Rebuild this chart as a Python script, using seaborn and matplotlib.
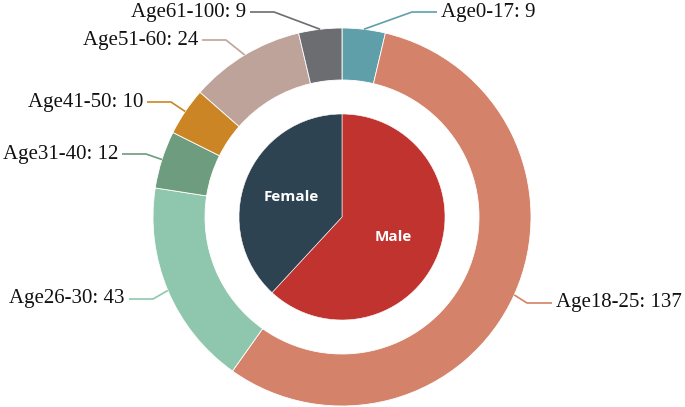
import numpy as np
import matplotlib
matplotlib.use("Agg")
import matplotlib.pyplot as plt
import seaborn as sns

# ---- data ----
age_groups = ["Age0-17", "Age18-25", "Age26-30", "Age31-40", "Age41-50", "Age51-60", "Age61-100"]
age_counts = [9, 137, 43, 12, 10, 24, 9]
age_colors = ["#5f9fa9", "#d4826a", "#8fc7ae", "#6d9c7e", "#cc8524", "#bea39a", "#6b6d71"]

gender_labels = ["Male", "Female"]
gender_counts = [151, 93]
gender_colors = ["#c1332f", "#2e4352"]

# label layout (pixel positions of text anchor, side)
label_pos = [(441, 12, "right"), (556, 303, "right"), (125, 299, "left"), (118, 154, "left"),
             (143, 102, "left"), (198, 40, "left"), (246, 12, "left")]

sns.set_theme(style="white")
W, H = 685, 407
fig = plt.figure(figsize=(W / 100, H / 100), dpi=100)
ax = fig.add_axes([0, 0, 1, 1])

cx, cy = 342, H - 217
R_out, ring_w, R_in = 189, 52, 103

wedges, _ = ax.pie(age_counts, radius=R_out, center=(cx, cy), startangle=90, counterclock=False,
                   colors=age_colors, wedgeprops=dict(width=ring_w, edgecolor="white", linewidth=0.6))
ax.pie(gender_counts, radius=R_in, center=(cx, cy), startangle=90, counterclock=False,
       colors=gender_colors, wedgeprops=dict(edgecolor="white", linewidth=0.4))

# inner labels
total_g = sum(gender_counts)
start = 90.0
for lab, v in zip(gender_labels, gender_counts):
    sweep = v / total_g * 360
    mid = np.deg2rad(start - sweep / 2)
    start -= sweep
    ax.text(cx + 0.53 * R_in * np.cos(mid), cy + 0.53 * R_in * np.sin(mid), lab,
            ha="center", va="center", color="white", fontsize=11, fontweight="bold",
            family=["Open Sans", "DejaVu Sans"])

# outer labels with leader lines
total_a = sum(age_counts)
start = 90.0
for name, v, col, (tx, ty, side) in zip(age_groups, age_counts, age_colors, label_pos):
    sweep = v / total_a * 360
    mid = np.deg2rad(start - sweep / 2)
    start -= sweep
    ex, ey = cx + R_out * np.cos(mid), cy + R_out * np.sin(mid)
    tyd = H - ty
    if side == "right":
        elbow = tx - 29
        lend = tx - 4
        ha = "left"
    else:
        elbow = tx + 28
        lend = tx + 4
        ha = "right"
    ax.plot([ex, elbow, lend], [ey, tyd, tyd], color=col, lw=1.2, solid_capstyle="butt")
    ax.text(tx, tyd, f"{name}: {v}", ha=ha, va="center", fontsize=15,
            family=["Liberation Serif", "DejaVu Serif"], color="#111111")

ax.set_xlim(0, W)
ax.set_ylim(0, H)
ax.set_aspect("equal")
ax.axis("off")
fig.savefig("out.png", dpi=100)
